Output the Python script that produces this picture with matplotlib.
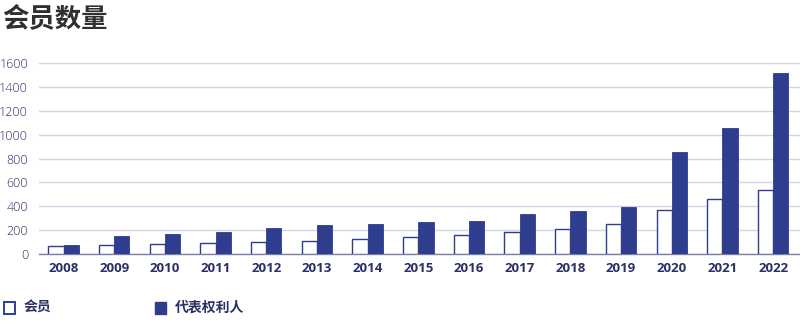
import numpy as np
import matplotlib.pyplot as plt
from matplotlib.patches import Rectangle

plt.rcParams['font.family'] = ['Open Sans', 'Noto Sans CJK SC', 'DejaVu Sans']

years = ['2008', '2009', '2010', '2011', '2012', '2013', '2014', '2015',
         '2016', '2017', '2018', '2019', '2020', '2021', '2022']
members = [70, 75, 85, 88, 103, 111, 123, 145, 162, 184, 210, 251, 369, 461, 539]
representatives = [78, 153, 168, 181, 216, 243, 251, 265, 279, 332, 360, 396, 851, 1053, 1514]
yticks = [0, 200, 400, 600, 800, 1000, 1200, 1400, 1600]

navy = '#2f3d8f'
text_navy = '#2b2f66'
grid_col = '#d2d3e6'

fig = plt.figure(figsize=(8, 3.32), dpi=100)
ax = fig.add_axes([0.049, 0.235, 0.951, 0.575])

x = np.arange(len(years))
w = 0.3
ax.bar(x - w / 2, members, width=w, color='white', edgecolor=navy, linewidth=1.0, zorder=3)
ax.bar(x + w / 2, representatives, width=w, color=navy, edgecolor=navy, linewidth=0.6, zorder=3)

ax.set_xlim(-0.48, 14.53)
ax.set_ylim(0, 1600)
ax.set_yticks(yticks)
ax.yaxis.grid(True, color=grid_col, linewidth=1.0, zorder=0)
ax.set_axisbelow(True)
for s in ['top', 'right', 'left']:
    ax.spines[s].set_visible(False)
ax.spines['bottom'].set_color('#7c7fa6')
ax.spines['bottom'].set_linewidth(1.0)

ax.set_xticks(x)
ax.set_xticklabels(years, fontsize=9.5, fontweight='bold', color=text_navy)
ax.tick_params(axis='x', length=0, pad=6)
ax.tick_params(axis='y', length=0, pad=8, labelsize=9, labelcolor=text_navy)
for lab in ax.get_yticklabels():
    lab.set_fontweight('light')

fig.text(0.003, 0.985, '会员数量', fontsize=19, fontweight='bold', color='#303030',
         family=['Noto Sans CJK SC', 'DejaVu Sans'], va='top', ha='left')

# legend drawn by hand along the bottom
fig.patches.append(Rectangle((0.005, 0.055), 0.014, 0.034, transform=fig.transFigure,
                             facecolor='white', edgecolor=navy, linewidth=1.4))
fig.text(0.029, 0.072, '会员', fontsize=10, fontweight='bold', color=text_navy,
         family=['Noto Sans CJK SC', 'DejaVu Sans'], va='center', ha='left')
fig.patches.append(Rectangle((0.194, 0.055), 0.014, 0.034, transform=fig.transFigure,
                             facecolor=navy, edgecolor=navy, linewidth=1.0))
fig.text(0.219, 0.072, '代表权利人', fontsize=10, fontweight='bold', color=text_navy,
         family=['Noto Sans CJK SC', 'DejaVu Sans'], va='center', ha='left')

fig.savefig('out.png', dpi=100)
